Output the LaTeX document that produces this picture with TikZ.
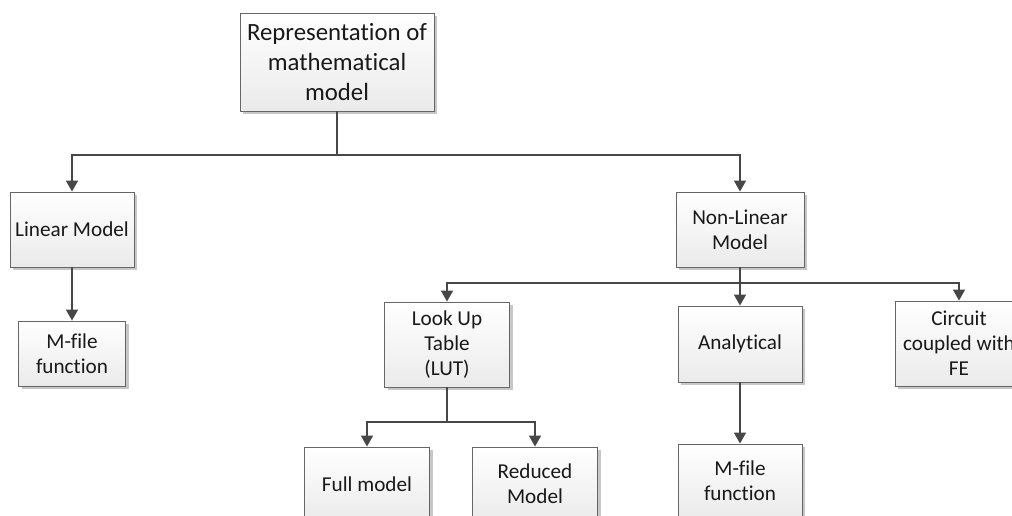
\documentclass[tikz,border=0pt]{standalone}
\usepackage{fontspec}
\setmainfont{Carlito}[Ligatures=NoCommon]
\usetikzlibrary{arrows.meta,shadows}

\tikzset{
	block/.style={draw=black!60, line width=0.9pt, top color=white, bottom color=black!8,
		align=center, inner sep=0pt, text=black!90,
		font=\fontsize{21.2}{25}\selectfont,
		drop shadow={shadow xshift=3pt, shadow yshift=-3pt, fill=black!22, opacity=1}},
	link/.style={draw=black!72, line width=1.6pt},
	arr/.style={link, -{Triangle[length=11pt,width=12pt]}}
}

\begin{document}
\begin{tikzpicture}[x=1pt,y=-1pt]
			\clip (0,0) rectangle (1012,516);
			% top level
			\node[block, minimum width=194, minimum height=98, font=\fontsize{24.8}{30}\selectfont] (root) at (337,62) {Representation of\\mathematical\\model};
			% second level
			\node[block, minimum width=124, minimum height=75] (lin)    at (72, 229.5) {Linear Model};
			\node[block, minimum width=128, minimum height=75] (nonlin) at (740,229.5) {Non-Linear\\Model};
			% third level
			\node[block, minimum width=107, minimum height=65] (mfl)    at (72, 353.5) {M-file\\function};
			\node[block, minimum width=125, minimum height=85] (lut)    at (447,344.5) {Look Up\\Table\\(LUT)};
			\node[block, minimum width=124, minimum height=76] (ana)    at (740,344)   {Analytical};
			\node[block, minimum width=128, minimum height=85] (cir)    at (959,343.5) {Circuit\\coupled with\\FE};
			% bottom level
			\node[block, minimum width=125, minimum height=74] (full)   at (367,484)   {Full model};
			\node[block, minimum width=125, minimum height=74] (red)    at (535,484)   {Reduced\\Model};
			\node[block, minimum width=124, minimum height=74] (mfr)    at (740,481)   {M-file\\function};
			%
			\coordinate (bus0) at (337,155);
			\coordinate (bus1) at (740,283);
			\coordinate (bus2) at (447,422);
			%
			\def\stems {root/bus0, nonlin/bus1, lut/bus2}  % plain lines down to a bus
			\foreach \u\v in \stems
			{	\draw[link] (\u) -- (\v);
			}
			\def\branches {bus0/lin, bus0/nonlin, bus1/lut, bus1/ana, bus1/cir, bus2/full, bus2/red}  % bus to child
			\foreach \u\v in \branches
			{	\draw[arr] (\u) -| (\v);
			}
			\def\straight {lin/mfl, ana/mfr}
			\foreach \u\v in \straight
			{	\draw[arr] (\u) -- (\v);
			}
			%
		\end{tikzpicture}
\end{document}
